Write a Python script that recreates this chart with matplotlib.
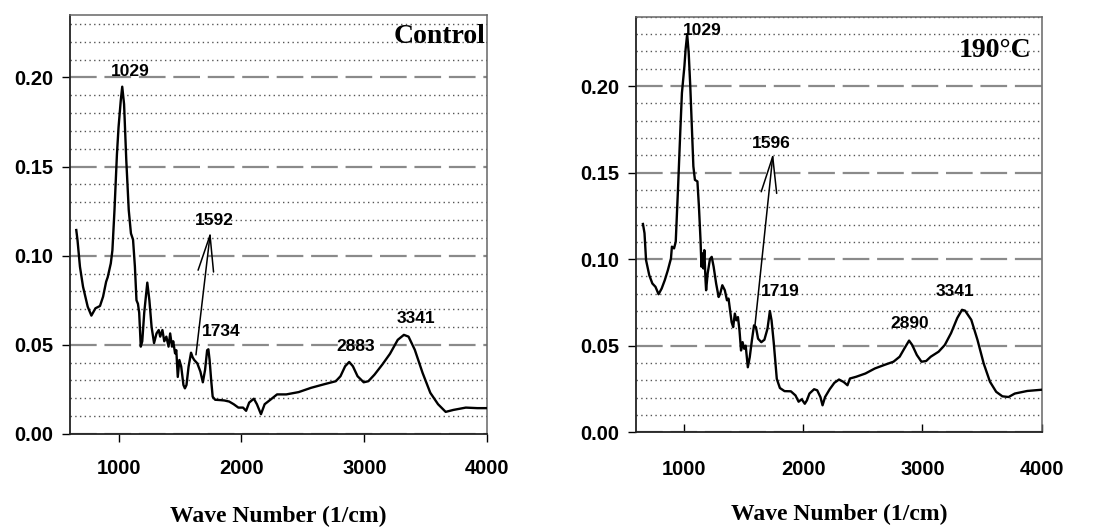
import matplotlib
matplotlib.use('Agg')
import matplotlib.pyplot as plt
from matplotlib.ticker import MultipleLocator, FormatStrFormatter

# ---------------- data ----------------
ctrl_wn = [656, 666, 686, 711, 749, 779, 812, 849, 874, 899, 912, 937, 950, 967, 987,
           1000, 1018, 1030, 1045, 1063, 1083, 1101, 1118, 1133, 1146, 1158, 1168, 1181,
           1193, 1209, 1234, 1251, 1269, 1289, 1309, 1327, 1339, 1357, 1372, 1389, 1407,
           1420, 1435, 1445, 1460, 1470, 1482, 1495, 1510, 1528, 1540, 1553, 1570, 1590,
           1603, 1616, 1641, 1666, 1686, 1704, 1721, 1731, 1741, 1754, 1766, 1786, 1830,
           1861, 1900, 1937, 1975, 2013, 2038, 2063, 2101, 2126, 2159, 2189, 2239, 2290,
           2365, 2466, 2567, 2668, 2768, 2806, 2844, 2877, 2907, 2945, 2995, 3033, 3083,
           3146, 3209, 3272, 3322, 3360, 3411, 3474, 3537, 3600, 3662, 3725, 3826, 3920,
           4000]
ctrl_abs = [0.1144, 0.1088, 0.0938, 0.0826, 0.0714, 0.0664, 0.0705, 0.0718, 0.0770,
            0.0854, 0.0880, 0.0957, 0.1030, 0.1256, 0.1570, 0.1720, 0.1870, 0.1948,
            0.1850, 0.1536, 0.1256, 0.1125, 0.1090, 0.0940, 0.0750, 0.0730, 0.0680,
            0.0490, 0.0520, 0.0680, 0.0849, 0.0750, 0.0600, 0.0510, 0.0564, 0.0583,
            0.0546, 0.0583, 0.0520, 0.0546, 0.0490, 0.0564, 0.0490, 0.0520, 0.0452,
            0.0470, 0.0320, 0.0415, 0.0378, 0.0275, 0.0256, 0.0275, 0.0378, 0.0456,
            0.0430, 0.0415, 0.0396, 0.0350, 0.0290, 0.0359, 0.0470, 0.0475, 0.0415,
            0.0300, 0.0209, 0.0192, 0.0190, 0.0188, 0.0182, 0.0167, 0.0148, 0.0148,
            0.0130, 0.0176, 0.0198, 0.0167, 0.0111, 0.0167, 0.0194, 0.0222, 0.0222,
            0.0235, 0.0259, 0.0278, 0.0296, 0.0324, 0.0380, 0.0404, 0.0380, 0.0324,
            0.0290, 0.0296, 0.0333, 0.0389, 0.0450, 0.0528, 0.0556, 0.0546, 0.0472,
            0.0343, 0.0231, 0.0167, 0.0124, 0.0135, 0.0148, 0.0145, 0.0145]

t190_wn = [655, 668, 681, 708, 734, 760, 786, 812, 838, 864, 890, 898, 916, 930, 950,
           969, 982, 1003, 1013, 1026, 1039, 1052, 1065, 1078, 1091, 1112, 1125, 1138,
           1146, 1154, 1162, 1170, 1180, 1185, 1198, 1217, 1232, 1248, 1269, 1290, 1303,
           1321, 1342, 1360, 1373, 1386, 1399, 1412, 1426, 1439, 1452, 1465, 1478, 1491,
           1504, 1517, 1535, 1551, 1569, 1587, 1603, 1621, 1648, 1674, 1700, 1720, 1734,
           1752, 1778, 1804, 1843, 1896, 1935, 1961, 1987, 2013, 2031, 2052, 2091, 2117,
           2144, 2162, 2183, 2222, 2261, 2300, 2339, 2371, 2392, 2444, 2522, 2601, 2679,
           2757, 2809, 2849, 2888, 2914, 2953, 2992, 3031, 3070, 3136, 3188, 3240, 3292,
           3332, 3358, 3410, 3462, 3514, 3567, 3619, 3671, 3723, 3775, 3880, 4000]
t190_abs = [0.1203, 0.1150, 0.0994, 0.0907, 0.0859, 0.0840, 0.0797, 0.0830, 0.0878,
            0.0936, 0.1004, 0.1072, 0.1062, 0.1100, 0.1420, 0.1750, 0.1960, 0.2116,
            0.2213, 0.2300, 0.2190, 0.2000, 0.1770, 0.1536, 0.1458, 0.1449, 0.1300,
            0.1110, 0.0956, 0.1033, 0.0946, 0.1052, 0.0878, 0.0820, 0.0917, 0.1000,
            0.1013, 0.0956, 0.0859, 0.0781, 0.0800, 0.0849, 0.0820, 0.0762, 0.0772,
            0.0704, 0.0636, 0.0607, 0.0685, 0.0646, 0.0665, 0.0588, 0.0472, 0.0520,
            0.0482, 0.0500, 0.0375, 0.0433, 0.0530, 0.0617, 0.0607, 0.0540, 0.0520,
            0.0534, 0.0598, 0.0700, 0.0646, 0.0520, 0.0308, 0.0255, 0.0237, 0.0236,
            0.0212, 0.0176, 0.0190, 0.0164, 0.0184, 0.0223, 0.0248, 0.0242, 0.0203,
            0.0155, 0.0203, 0.0248, 0.0285, 0.0304, 0.0290, 0.0271, 0.0310, 0.0320,
            0.0339, 0.0368, 0.0388, 0.0407, 0.0436, 0.0484, 0.0529, 0.0504, 0.0446,
            0.0407, 0.0411, 0.0436, 0.0465, 0.0504, 0.0572, 0.0659, 0.0707, 0.0702,
            0.0649, 0.0533, 0.0397, 0.0291, 0.0233, 0.0207, 0.0203, 0.0223, 0.0238,
            0.0245]

ctrl_labels = ['1029', '1592', '1734', '2883', '3341']
ctrl_label_x = [1096, 1776, 1834, 2933, 3423]
ctrl_label_y = [0.2034, 0.1200, 0.0575, 0.0490, 0.0650]

t190_labels = ['1029', '1596', '1719', '2890', '3341']
t190_label_x = [1150, 1735, 1805, 2894, 3271]
t190_label_y = [0.2320, 0.1670, 0.0813, 0.0630, 0.0813]

x_ticks = [1000, 2000, 3000, 4000]
y_ticks = [0.00, 0.05, 0.10, 0.15, 0.20]

NUM_FONT = 'Liberation Sans'
SERIF = 'Liberation Serif'

fig = plt.figure(figsize=(11.2, 5.27), dpi=100)
ax1 = fig.add_axes([0.0625, 0.1765, 0.3725, 0.795])
ax2 = fig.add_axes([0.568, 0.180, 0.362, 0.788])


def style(ax, xlim, ylim, xdir, xpad):
    ax.set_xlim(*xlim)
    ax.set_ylim(*ylim)
    ax.set_xticks(x_ticks)
    ax.set_yticks(y_ticks)
    ax.yaxis.set_major_formatter(FormatStrFormatter('%.2f'))
    ax.yaxis.set_minor_locator(MultipleLocator(0.01))
    ax.grid(False)
    ax.grid(True, which='major', axis='y', color='#8a8a8a', lw=1.6,
            linestyle=(0, (12, 3.5)), zorder=0)
    ax.grid(True, which='minor', axis='y', color='#555555', lw=1.0,
            linestyle=(0, (1, 2.4)), zorder=0)
    ax.tick_params(axis='y', which='major', direction='out', length=6, width=1,
                   pad=6, labelsize=14.5)
    ax.tick_params(axis='y', which='minor', length=0)
    ax.tick_params(axis='x', which='major', direction=xdir, length=6, width=1,
                   pad=xpad, labelsize=14.5)
    for lab in ax.get_xticklabels() + ax.get_yticklabels():
        lab.set_fontfamily(NUM_FONT)
        lab.set_fontweight('bold')
    for s in ['left', 'bottom']:
        ax.spines[s].set_color('#222222')
        ax.spines[s].set_linewidth(1.3)
    for s in ['top', 'right']:
        ax.spines[s].set_color('#666666')
        ax.spines[s].set_linewidth(1.1)
    ax.set_axisbelow(True)
    ax.set_xlabel('Wave Number (1/cm)', fontfamily=SERIF, fontweight='bold',
                  fontsize=17)
    ax.xaxis.set_label_coords(0.5, -0.198)
    ax.xaxis.label.set_va('center')


style(ax1, (605, 4000), (0, 0.235), 'out', 12)
style(ax2, (598, 4000), (0, 0.24), 'in', 20)

ax1.plot(ctrl_wn, ctrl_abs, color='black', lw=1.7, zorder=3)
ax2.plot(t190_wn, t190_abs, color='black', lw=1.7, zorder=3)

for t, x, y in zip(ctrl_labels, ctrl_label_x, ctrl_label_y):
    ax1.text(x, y, t, ha='center', va='center', fontfamily=NUM_FONT,
             fontweight='bold', fontsize=12.5, zorder=4)
for t, x, y in zip(t190_labels, t190_label_x, t190_label_y):
    ax2.text(x, y, t, ha='center', va='center', fontfamily=NUM_FONT,
             fontweight='bold', fontsize=12.5, zorder=4)

arrow = dict(arrowstyle='->,head_length=1.3,head_width=0.28', color='black',
             lw=1.1, mutation_scale=20, shrinkA=0, shrinkB=0)
ax1.annotate('', xy=(1748, 0.1135), xytext=(1630, 0.0444), arrowprops=arrow,
             zorder=4)
ax2.annotate('', xy=(1747, 0.1613), xytext=(1595, 0.0617), arrowprops=arrow,
             zorder=4)

ax1.text(0.995, 0.948, 'Control', transform=ax1.transAxes, ha='right',
         va='center', fontfamily=SERIF, fontweight='bold', fontsize=20, zorder=4)
ax2.text(0.975, 0.918, '190°C', transform=ax2.transAxes, ha='right',
         va='center', fontfamily=SERIF, fontweight='bold', fontsize=20, zorder=4)

fig.savefig('out.png', dpi=100)
